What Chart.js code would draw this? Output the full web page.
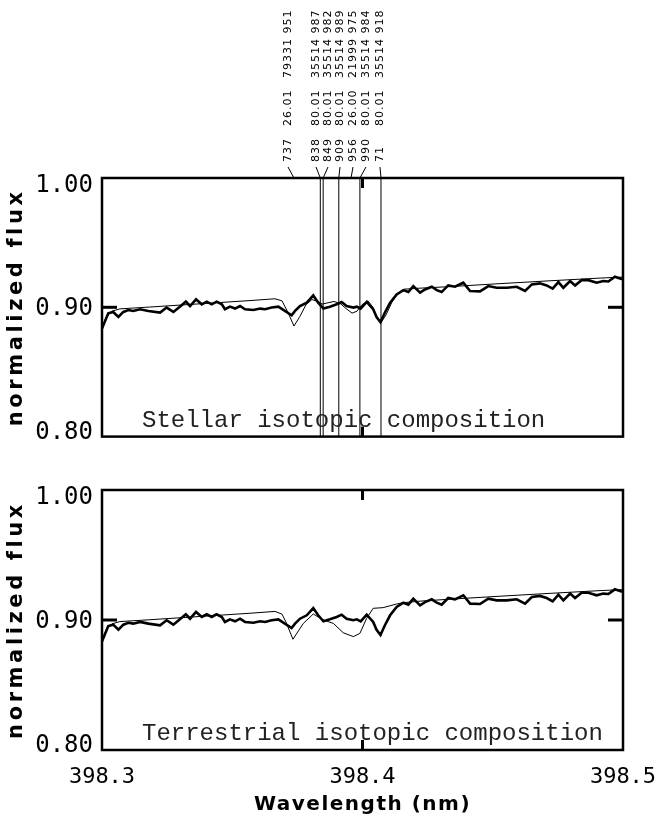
<!DOCTYPE html>
<html>
<head>
<meta charset="utf-8">
<title>Hg II 398.4 nm region</title>
<script src="https://cdn.jsdelivr.net/npm/chart.js@4.4.0/dist/chart.umd.min.js"></script>
<style>
  html, body { margin: 0; padding: 0; background: #fff; }
  #wrap { position: relative; width: 666px; height: 818px; }
  #cTop { position: absolute; left: 0; top: 0; }
  #cBot { position: absolute; left: 0; top: 460px; }
</style>
</head>
<body>
<div id="wrap">
  <canvas id="cTop" width="666" height="460"></canvas>
  <canvas id="cBot" width="666" height="358"></canvas>
</div>
<script>
// ---- observed spectrum (normalized flux vs wavelength, nm) ----
const obsWave = [
  398.3000, 398.3024, 398.3043, 398.3063, 398.3082, 398.3101, 398.3120, 398.3146,
  398.3178, 398.3223, 398.3248, 398.3274, 398.3299, 398.3322, 398.3338, 398.3361,
  398.3383, 398.3402, 398.3421, 398.3440, 398.3460, 398.3472, 398.3491, 398.3511,
  398.3530, 398.3549, 398.3581, 398.3607, 398.3626, 398.3651, 398.3677, 398.3702,
  398.3728, 398.3741, 398.3760, 398.3786, 398.3811, 398.3830, 398.3850, 398.3875,
  398.3901, 398.3920, 398.3939, 398.3965, 398.3978, 398.3993, 398.4016, 398.4041,
  398.4054, 398.4069, 398.4086, 398.4106, 398.4131, 398.4157, 398.4176, 398.4195,
  398.4221, 398.4240, 398.4266, 398.4285, 398.4304, 398.4329, 398.4355, 398.4387,
  398.4413, 398.4451, 398.4483, 398.4515, 398.4554, 398.4592, 398.4624, 398.4650,
  398.4681, 398.4707, 398.4730, 398.4752, 398.4771, 398.4797, 398.4816, 398.4841,
  398.4867, 398.4899, 398.4924, 398.4944, 398.4969, 398.4991, 398.5000
];
const obsFlux = [
  0.8835, 0.8954, 0.8964, 0.8925, 0.8964, 0.8979, 0.8972, 0.8985,
  0.8972, 0.8959, 0.8998, 0.8964, 0.9005, 0.9044, 0.9010, 0.9062,
  0.9023, 0.9044, 0.9023, 0.9044, 0.9023, 0.8985, 0.9005, 0.8990,
  0.9010, 0.8985, 0.8979, 0.8990, 0.8985, 0.8998, 0.9005, 0.8972,
  0.8938, 0.8972, 0.9010, 0.9036, 0.9092, 0.9036, 0.8990, 0.9005,
  0.9023, 0.9041, 0.9010, 0.8998, 0.9005, 0.8990, 0.9041, 0.8985,
  0.8925, 0.8885, 0.8960, 0.9036, 0.9100, 0.9133, 0.9118, 0.9164,
  0.9113, 0.9138, 0.9159, 0.9133, 0.9118, 0.9169, 0.9159, 0.9190,
  0.9126, 0.9123, 0.9164, 0.9151, 0.9151, 0.9159, 0.9126, 0.9177,
  0.9185, 0.9169, 0.9144, 0.9195, 0.9151, 0.9203, 0.9169, 0.9210,
  0.9210, 0.9190, 0.9203, 0.9200, 0.9236, 0.9221, 0.9218
];

// ---- synthetic spectrum, stellar Hg isotopic mix ----
const stellarWave = [
  398.3000, 398.3015, 398.3038, 398.3069, 398.3184, 398.3376, 398.3568, 398.3664,
  398.3691, 398.3714, 398.3737, 398.3760, 398.3783, 398.3806, 398.3829, 398.3845,
  398.3868, 398.3891, 398.3914, 398.3937, 398.3960, 398.3979, 398.3998, 398.4021,
  398.4040, 398.4056, 398.4071, 398.4090, 398.4113, 398.4136, 398.4159, 398.4221,
  398.4336, 398.4528, 398.4720, 398.4912, 398.5000
];
const stellarFlux = [
  0.8840, 0.8920, 0.8970, 0.8988, 0.9002, 0.9027, 0.9052, 0.9066,
  0.9050, 0.8960, 0.8855, 0.8930, 0.9020, 0.9060, 0.9045, 0.9025,
  0.9035, 0.9045, 0.9030, 0.8990, 0.8955, 0.8970, 0.9020, 0.9050,
  0.9000, 0.8920, 0.8882, 0.8940, 0.9040, 0.9105, 0.9140, 0.9148,
  0.9160, 0.9183, 0.9205, 0.9226, 0.9234
];

// ---- synthetic spectrum, terrestrial Hg isotopic mix ----
const terrWave = [
  398.3000, 398.3015, 398.3038, 398.3069, 398.3184, 398.3376, 398.3568, 398.3664,
  398.3691, 398.3706, 398.3733, 398.3773, 398.3811, 398.3850, 398.3888, 398.3926,
  398.3965, 398.3990, 398.4016, 398.4041, 398.4079, 398.4131, 398.4155, 398.4221,
  398.4336, 398.4528, 398.4720, 398.4912, 398.5000
];
const terrFlux = [
  0.8840, 0.8920, 0.8970, 0.8988, 0.9002, 0.9027, 0.9052, 0.9066,
  0.9045, 0.8985, 0.8852, 0.8974, 0.9046, 0.9000, 0.8974, 0.8902,
  0.8872, 0.8897, 0.9013, 0.9090, 0.9095, 0.9123, 0.9133, 0.9145,
  0.9160, 0.9183, 0.9205, 0.9226, 0.9234
];

// ---- axis ticks ----
const xTicks = [398.3, 398.4, 398.5];
const yTicks = [0.80, 0.90, 1.00];

// ---- line identifications (wavelength tail, species, lower level, strength) ----
const lineWave    = [398.3737, 398.3838, 398.3849, 398.3909, 398.3956, 398.3990, 398.4071];
const lineTail    = ['737', '838', '849', '909', '956', '990', '71'];
const lineSpecies = ['26.01', '80.01', '80.01', '80.01', '26.00', '80.01', '80.01'];
const lineLevel   = ['79331 951', '35514 987', '35514 982', '35514 989', '21999 975', '35514 984', '35514 918'];
const lineMarked  = [false, true, true, true, false, true, true];

// label column positions across the top (pixels)
const labelColX = [288, 316, 328, 340, 353, 366, 380];

// the flux labels sit slightly inside the frame: the label axis runs a bit
// beyond the data range so 1.00 / 0.80 are pulled inwards
const labelAxisMin = 0.7969;
const labelAxisMax = 1.0062;

const toXY = (w, f) => w.map((v, i) => ({ x: v, y: f[i] }));

function markerSets() {
  const sets = [];
  lineWave.forEach((w, i) => {
    if (!lineMarked[i]) return;
    sets.push({
      data: [{ x: w, y: 0.80 }, { x: w, y: 1.00 }],
      borderColor: '#000', borderWidth: 1, pointRadius: 0, fill: false
    });
  });
  return sets;
}

function line(ctx, x1, y1, x2, y2) {
  ctx.beginPath(); ctx.moveTo(x1, y1); ctx.lineTo(x2, y2); ctx.stroke();
}

const frame = {
  id: 'frame',
  afterDraw(chart, args, opts) {
    const { ctx, chartArea: a, scales: { x, y } } = chart;
    ctx.save();
    ctx.strokeStyle = '#000';
    ctx.fillStyle = '#000';
    ctx.lineWidth = 2.5;
    ctx.strokeRect(a.left, a.top, a.right - a.left, a.bottom - a.top);

    // inward tick marks at 0.90 and 398.4
    ctx.lineWidth = 3;
    const y9 = y.getPixelForValue(0.90);
    const x4 = x.getPixelForValue(398.4);
    line(ctx, a.left, y9, a.left + 15, y9);
    line(ctx, a.right - 15, y9, a.right, y9);
    line(ctx, x4, a.top, x4, a.top + 10);
    line(ctx, x4, a.bottom - 10, x4, a.bottom);

    // panel caption
    ctx.font = '24px "Liberation Mono"';
    ctx.fillStyle = '#222';
    ctx.textAlign = 'left';
    ctx.textBaseline = 'alphabetic';
    ctx.fillText(opts.caption, a.left + 40, a.bottom - 10);
    ctx.fillStyle = '#000';

    // y axis title
    ctx.save();
    ctx.translate(17, (a.top + a.bottom) / 2);
    ctx.rotate(-Math.PI / 2);
    ctx.font = 'bold 21px "DejaVu Sans"';
    ctx.letterSpacing = '3.6px';
    ctx.textAlign = 'center';
    ctx.textBaseline = 'middle';
    ctx.fillText('normalized flux', 0, 0);
    ctx.restore();

    // x axis title
    if (opts.xTitle) {
      ctx.save();
      ctx.font = 'bold 20px "DejaVu Sans"';
      ctx.letterSpacing = '1.5px';
      ctx.textAlign = 'center';
      ctx.textBaseline = 'middle';
      ctx.fillText(opts.xTitle, (a.left + a.right) / 2, chart.height - 13);
      ctx.restore();
    }

    // line identifications above the panel
    if (opts.idents) {
      ctx.lineWidth = 1;
      ctx.font = '11px "DejaVu Sans"';
      ctx.letterSpacing = '1px';
      ctx.textAlign = 'left';
      ctx.textBaseline = 'middle';
      lineWave.forEach((w, i) => {
        const lx = labelColX[i];
        const px = x.getPixelForValue(w);
        line(ctx, lx, 167, px, a.top);
        const parts = [[lineTail[i], 162], [lineSpecies[i], 126], [lineLevel[i], 78]];
        parts.forEach(([txt, y0]) => {
          ctx.save();
          ctx.translate(lx, y0);
          ctx.rotate(-Math.PI / 2);
          ctx.fillText(txt, 0, 0);
          ctx.restore();
        });
      });
    }
    ctx.restore();
  }
};

function makeChart(id, synthW, synthF, opts) {
  return new Chart(document.getElementById(id), {
    type: 'line',
    data: {
      datasets: [
        { data: toXY(obsWave, obsFlux), borderColor: '#000', borderWidth: 2.6, pointRadius: 0, fill: false },
        { data: toXY(synthW, synthF), borderColor: '#000', borderWidth: 1, pointRadius: 0, fill: false },
        ...(opts.idents ? markerSets() : [])
      ]
    },
    options: {
      responsive: false,
      animation: false,
      events: [],
      layout: { padding: opts.padding, autoPadding: false },
      plugins: {
        legend: { display: false },
        tooltip: { enabled: false },
        frame: { caption: opts.caption, xTitle: opts.xTitle, idents: opts.idents }
      },
      scales: {
        x: {
          type: 'linear', min: 398.3, max: 398.5,
          display: opts.showX,
          afterBuildTicks: s => { s.ticks = xTicks.map(v => ({ value: v })); },
          afterFit: s => {
            s.height = opts.showX ? 68 : 0;
            // end labels overhang into the page margin; keep the plot width fixed
            s.paddingLeft = 0;
            s.paddingRight = 0;
          },
          grid: { display: false, drawTicks: false },
          border: { display: false },
          ticks: {
            callback: v => v.toFixed(1),
            font: { family: 'DejaVu Sans Mono', size: 22 },
            color: '#000', padding: 14, maxRotation: 0, autoSkip: false
          }
        },
        y: {
          type: 'linear', min: 0.80, max: 1.00,
          display: false
        },
        yLabels: {
          type: 'linear', position: 'left', min: labelAxisMin, max: labelAxisMax,
          afterBuildTicks: s => { s.ticks = yTicks.map(v => ({ value: v })); },
          afterFit: s => { s.width = 102; },
          grid: { display: false, drawTicks: false },
          border: { display: false },
          ticks: {
            callback: v => v.toFixed(2),
            font: { family: 'DejaVu Sans Mono', size: 24 },
            color: '#000', padding: 9
          }
        }
      }
    },
    plugins: [frame]
  });
}

makeChart('cTop', stellarWave, stellarFlux, {
  padding: { left: 0, top: 178, right: 43, bottom: 22 },
  showX: false,
  caption: 'Stellar isotopic composition',
  idents: true
});

makeChart('cBot', terrWave, terrFlux, {
  padding: { left: 0, top: 30, right: 43, bottom: 0 },
  showX: true,
  caption: 'Terrestrial isotopic composition',
  xTitle: 'Wavelength (nm)'
});
</script>
</body>
</html>
